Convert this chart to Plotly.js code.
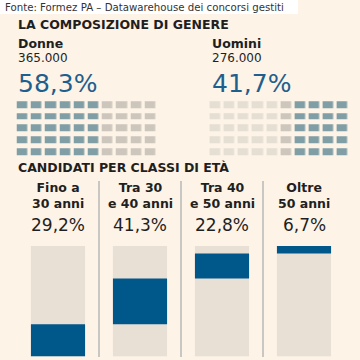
<!DOCTYPE html>
<html>
<head>
<meta charset="utf-8">
<script src="https://cdn.plot.ly/plotly-3.0.1.min.js"></script>
<style>html,body{margin:0;padding:0;background:#fdf3e6;}#chart{width:360px;height:360px;}</style>
</head>
<body>
<div id="chart"></div>
<script>
// ---- data ----
var source = "Fonte: Formez PA – Datawarehouse dei concorsi gestiti";
var genderTitle = "LA COMPOSIZIONE DI GENERE";
var genderNames = ["Donne", "Uomini"];
var genderCounts = ["365.000", "276.000"];
var genderPct = [58.3, 41.7];
// waffle column states (0 = light, 1 = hatched grey, 2 = blue), 5 rows each
var donneCols = [2, 2, 2, 2, 2, 2, 1, 1, 1, 1];
var uominiCols = [0, 0, 0, 0, 0, 1, 2, 2, 2, 2];
var waffleRows = 5;

var ageTitle = "CANDIDATI PER CLASSI DI ETÀ";
var ageClasses = ["Fino a<br>30 anni", "Tra 30<br>e 40 anni", "Tra 40<br>e 50 anni", "Oltre<br>50 anni"];
var agePct = [29.2, 41.3, 22.8, 6.7];

// ---- helpers ----
function py(px) { return 1 - px / 360; }
function px(x) { return x / 360; }
function fmt(v) { return v.toFixed(1).replace('.', ',') + '%'; }
function grid(cols) {
  var z = [];
  for (var r = 0; r < waffleRows; r++) z.push(cols.slice());
  return z;
}

var FONT = "DejaVu Sans";
var DARK = "#1f1f1f";
var BLUE = "#00578a";
var BG = "#fdf3e6";
var GREYBAR = "#e8e0d5";

var waffleScale = [[0, '#e5ded3'], [0.33, '#e5ded3'], [0.34, '#ccc6bc'], [0.66, '#ccc6bc'], [0.67, '#7f9ea5'], [1, '#7f9ea5']];

var bases = [];
var acc = 0;
for (var i = 0; i < agePct.length; i++) { bases.push(acc); acc += agePct[i]; }
var cats = ageClasses.map(function (c, i) { return 'c' + i; });

var traces = [
  {
    type: 'bar', x: cats, y: cats.map(function () { return 100; }),
    marker: { color: GREYBAR }, width: 0.66, hoverinfo: 'skip', xaxis: 'x', yaxis: 'y'
  },
  {
    type: 'bar', x: cats, y: agePct, base: bases,
    marker: { color: BLUE }, width: 0.66, hoverinfo: 'skip', xaxis: 'x', yaxis: 'y'
  },
  {
    type: 'heatmap', z: grid(donneCols), colorscale: waffleScale, zmin: 0, zmax: 2,
    showscale: false, xgap: 3.5, ygap: 5, xaxis: 'x2', yaxis: 'y2', hoverinfo: 'skip'
  },
  {
    type: 'heatmap', z: grid(uominiCols), colorscale: waffleScale, zmin: 0, zmax: 2,
    showscale: false, xgap: 3.5, ygap: 5, xaxis: 'x3', yaxis: 'y3', hoverinfo: 'skip'
  }
];

var hidden = { showgrid: false, zeroline: false, showticklabels: false, ticks: '', showline: false, fixedrange: true };

var annotations = [
  { text: source, x: px(3), y: py(7.5), xref: 'paper', yref: 'paper', xanchor: 'left', yanchor: 'middle', showarrow: false, font: { family: FONT, size: 10.2, color: '#333' } },
  { text: '<b>' + genderTitle + '</b>', x: px(16), y: py(25), xref: 'paper', yref: 'paper', xanchor: 'left', yanchor: 'middle', showarrow: false, font: { family: FONT, size: 12.5, color: DARK } },
  { text: '<b>' + ageTitle + '</b>', x: px(16), y: py(167), xref: 'paper', yref: 'paper', xanchor: 'left', yanchor: 'middle', showarrow: false, font: { family: FONT, size: 12.5, color: DARK } }
];
var gx = [16, 210];
for (var g = 0; g < 2; g++) {
  annotations.push({ text: '<b>' + genderNames[g] + '</b>', x: px(gx[g]), y: py(43), xref: 'paper', yref: 'paper', xanchor: 'left', yanchor: 'middle', showarrow: false, font: { family: FONT, size: 12.5, color: DARK } });
  annotations.push({ text: genderCounts[g], x: px(gx[g]), y: py(58), xref: 'paper', yref: 'paper', xanchor: 'left', yanchor: 'middle', showarrow: false, font: { family: FONT, size: 12, color: DARK } });
  annotations.push({ text: fmt(genderPct[g]), x: px(gx[g]), y: py(83), xref: 'paper', yref: 'paper', xanchor: 'left', yanchor: 'middle', showarrow: false, font: { family: FONT, size: 25, color: '#1d5f8e' } });
}
for (var k = 0; k < cats.length; k++) {
  annotations.push({ text: '<b>' + ageClasses[k] + '</b>', x: cats[k], xref: 'x', y: py(195.5), yref: 'paper', xanchor: 'center', yanchor: 'middle', showarrow: false, align: 'center', font: { family: FONT, size: 12.5, color: DARK } });
  annotations.push({ text: fmt(agePct[k]), x: cats[k], xref: 'x', y: py(224.5), yref: 'paper', xanchor: 'center', yanchor: 'middle', showarrow: false, font: { family: FONT, size: 17, color: DARK } });
}

var shapes = [
  { type: 'rect', xref: 'paper', yref: 'paper', x0: 0, x1: px(298), y0: py(14), y1: 1, fillcolor: '#ffffff', line: { width: 0 }, layer: 'below' }
];
[0.5, 1.5, 2.5].forEach(function (xs) {
  shapes.push({ type: 'line', xref: 'x', yref: 'paper', x0: xs, x1: xs, y0: py(357), y1: py(181), line: { color: '#b6b9b8', width: 1.5 } });
});

var layout = {
  width: 360, height: 360,
  margin: { l: 0, r: 0, t: 0, b: 0, pad: 0 },
  paper_bgcolor: BG, plot_bgcolor: 'rgba(0,0,0,0)',
  showlegend: false, barmode: 'overlay',
  xaxis: Object.assign({}, hidden, { domain: [px(17), px(345)], type: 'category', range: [-0.5, 3.5] }),
  yaxis: Object.assign({}, hidden, { domain: [px(3.5), px(114)], range: [0, 100] }),
  xaxis2: Object.assign({}, hidden, { domain: [px(15.7), px(157.7)], range: [-0.5, 9.5] }),
  yaxis2: Object.assign({}, hidden, { domain: [py(157.7), py(99.2)], range: [4.5, -0.5] }),
  xaxis3: Object.assign({}, hidden, { domain: [px(208.6), px(350)], range: [-0.5, 9.5] }),
  yaxis3: Object.assign({}, hidden, { domain: [py(157.7), py(99.2)], range: [4.5, -0.5] }),
  annotations: annotations,
  shapes: shapes
};

Plotly.newPlot('chart', traces, layout, { displayModeBar: false, staticPlot: true });
</script>
</body>
</html>
